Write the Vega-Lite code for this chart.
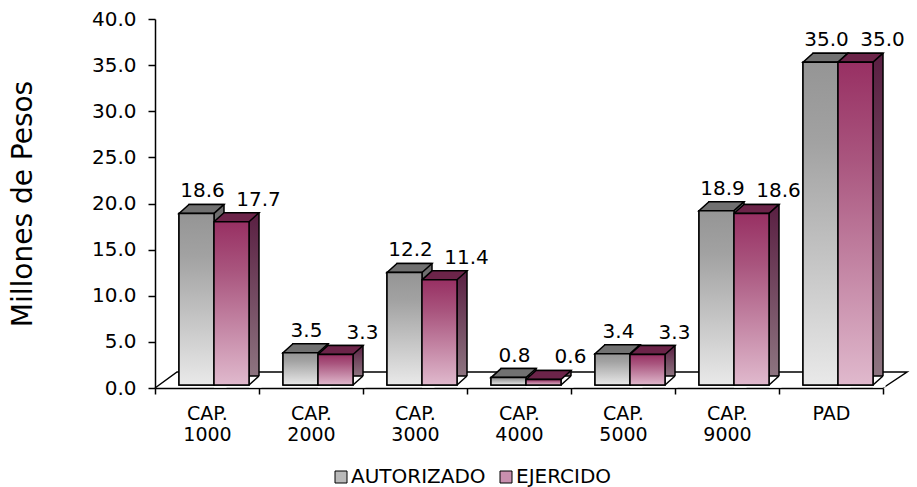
{
  "$schema": "https://vega.github.io/schema/vega-lite/v6.json",
  "autosize": "none",
  "padding": {"left": 155, "top": 19, "right": 34, "bottom": 99},
  "width": 728,
  "height": 369,
  "background": "white",
  "config": {"font": "DejaVu Sans", "view": {"stroke": null}},
  "data": {"values": [
    {"cat": "CAP. 1000", "serie": "AUTORIZADO", "v": 18.6},
    {"cat": "CAP. 1000", "serie": "EJERCIDO", "v": 17.7},
    {"cat": "CAP. 2000", "serie": "AUTORIZADO", "v": 3.5},
    {"cat": "CAP. 2000", "serie": "EJERCIDO", "v": 3.3},
    {"cat": "CAP. 3000", "serie": "AUTORIZADO", "v": 12.2},
    {"cat": "CAP. 3000", "serie": "EJERCIDO", "v": 11.4},
    {"cat": "CAP. 4000", "serie": "AUTORIZADO", "v": 0.8},
    {"cat": "CAP. 4000", "serie": "EJERCIDO", "v": 0.6},
    {"cat": "CAP. 5000", "serie": "AUTORIZADO", "v": 3.4},
    {"cat": "CAP. 5000", "serie": "EJERCIDO", "v": 3.3},
    {"cat": "CAP. 9000", "serie": "AUTORIZADO", "v": 18.9},
    {"cat": "CAP. 9000", "serie": "EJERCIDO", "v": 18.6},
    {"cat": "PAD", "serie": "AUTORIZADO", "v": 35.0},
    {"cat": "PAD", "serie": "EJERCIDO", "v": 35.0}
  ]},
  "encoding": {
    "x": {
      "field": "cat", "type": "nominal", "sort": null,
      "scale": {"paddingInner": 0, "paddingOuter": 0},
      "axis": {
        "title": null, "labelAngle": 0, "labelExpr": "split(datum.label, ' ')",
        "labelFontSize": 19, "labelLineHeight": 21, "labelPadding": 10, "labelColor": "black",
        "tickBand": "extent", "tickSize": 6, "tickColor": "black", "tickWidth": 1.5,
        "domainColor": "black", "domainWidth": 1.5, "grid": false
      }
    },
    "xOffset": {
      "field": "serie", "type": "nominal", "sort": null,
      "scale": {"type": "band", "domain": ["AUTORIZADO", "EJERCIDO"], "paddingInner": 0, "paddingOuter": 0.4857, "align": 0.706}
    },
    "y": {
      "field": "v", "type": "quantitative",
      "scale": {"domain": [0, 40], "nice": false},
      "axis": {
        "values": [0, 5, 10, 15, 20, 25, 30, 35, 40], "format": ".1f",
        "labelFontSize": 20, "labelPadding": 12, "labelColor": "black",
        "tickSize": 7, "tickColor": "black", "tickWidth": 1.5,
        "domainColor": "black", "domainWidth": 1.5, "grid": false,
        "title": "Millones de Pesos", "titleFontSize": 28, "titleFontWeight": "normal",
        "titleColor": "black", "titleX": -118
      }
    }
  },
  "resolve": {"scale": {"xOffset": "independent"}},
  "layer": [
    {
      "transform": [{"filter": "datum.cat == 'CAP. 1000' && datum.serie == 'AUTORIZADO'"}],
      "mark": {"type": "point", "shape": "M-41.5,0 L-19.5,-16 L710.5,-16 L686.5,0", "size": 4, "filled": false, "stroke": "black", "strokeWidth": 1.5, "opacity": 1},
      "encoding": {"y": {"datum": 0}}
    },
    {
      "mark": {"type": "bar", "yOffset": -12, "y2Offset": -3, "stroke": "black", "strokeWidth": 1.5},
      "encoding": {
        "xOffset": {
          "field": "serie", "type": "nominal", "sort": null,
          "scale": {"type": "band", "domain": ["AUTORIZADO", "EJERCIDO"], "paddingInner": 0, "paddingOuter": 0.4857, "align": 1}
        },
        "fill": {
          "condition": {"test": "datum.serie == 'AUTORIZADO'", "value": {"gradient": "linear", "x1": 0, "y1": 0, "x2": 0, "y2": 1, "stops": [{"offset": 0, "color": "#6a6a6a"}, {"offset": 1, "color": "#a4a4a4"}]}},
          "value": {"gradient": "linear", "x1": 0, "y1": 0, "x2": 0, "y2": 1, "stops": [{"offset": 0, "color": "#5a1f42"}, {"offset": 1, "color": "#8d7480"}]}
        }
      }
    },
    {
      "mark": {"type": "point", "shape": "M17.5,0 L27.5,-9 L30,-9 L30,2.5 L17.5,2.5 Z", "size": 4, "filled": true, "fill": "white", "strokeWidth": 0, "opacity": 1, "yOffset": -3},
      "encoding": {"y": {"datum": 0}}
    },
    {
      "mark": {"type": "point", "shape": "M17.5,0 L27.5,-9", "size": 4, "filled": false, "stroke": "black", "strokeWidth": 1.5, "opacity": 1, "yOffset": -3},
      "encoding": {"y": {"datum": 0}}
    },
    {
      "mark": {"type": "point", "shape": "M-17.5,0 L17.5,0 L27.5,-9 L-7.5,-9 Z", "size": 4, "filled": true, "stroke": "black", "strokeWidth": 1.5, "opacity": 1, "yOffset": -3},
      "encoding": {
        "fill": {"condition": {"test": "datum.serie == 'AUTORIZADO'", "value": "#717171"}, "value": "#6c2449"}
      }
    },
    {
      "mark": {"type": "bar", "yOffset": -3, "y2Offset": -3, "stroke": "black", "strokeWidth": 1.5},
      "encoding": {
        "fill": {
          "field": "serie", "type": "nominal", "sort": null,
          "scale": {"domain": ["AUTORIZADO", "EJERCIDO"], "range": ["#b9b9b9", "#c98fae"]},
          "legend": {
            "title": null, "orient": "none", "legendX": 176, "legendY": 448, "direction": "horizontal",
            "symbolType": "square", "symbolSize": 144, "symbolStrokeColor": "black", "symbolStrokeWidth": 1,
            "labelFontSize": 20, "labelColor": "black", "labelOffset": 0, "columnPadding": 10
          }
        }
      }
    },
    {
      "mark": {"type": "bar", "yOffset": -3, "y2Offset": -3, "stroke": "black", "strokeWidth": 1.5},
      "encoding": {
        "fill": {
          "condition": {"test": "datum.serie == 'AUTORIZADO'", "value": {"gradient": "linear", "x1": 0, "y1": 0, "x2": 0, "y2": 1, "stops": [{"offset": 0, "color": "#959595"}, {"offset": 0.25, "color": "#a2a2a2"}, {"offset": 1, "color": "#e9e9e9"}]}},
          "value": {"gradient": "linear", "x1": 0, "y1": 0, "x2": 0, "y2": 1, "stops": [{"offset": 0, "color": "#983063"}, {"offset": 0.3, "color": "#a9557e"}, {"offset": 1, "color": "#e0b9cd"}]}
        }
      }
    },
    {
      "transform": [{"filter": "datum.serie == 'AUTORIZADO'"}],
      "mark": {"type": "text", "fontSize": 20, "dx": 6, "dy": -19, "baseline": "alphabetic", "align": "center", "color": "black"},
      "encoding": {"text": {"field": "v", "type": "quantitative", "format": ".1f"}}
    },
    {
      "transform": [{"filter": "datum.serie == 'EJERCIDO'"}],
      "mark": {"type": "text", "fontSize": 20, "dx": 27, "dy": -19, "baseline": "alphabetic", "align": "center", "color": "black"},
      "encoding": {"text": {"field": "v", "type": "quantitative", "format": ".1f"}}
    }
  ]
}
